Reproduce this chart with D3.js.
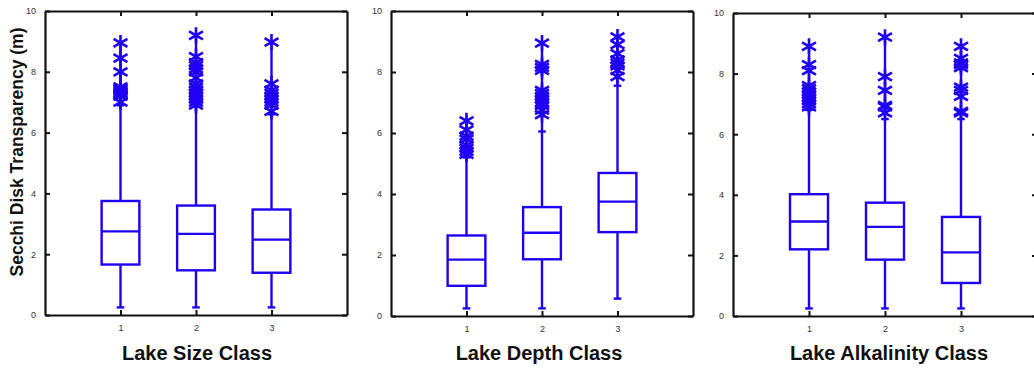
<!DOCTYPE html>
<html>
<head>
<meta charset="utf-8">
<script src="https://cdn.jsdelivr.net/npm/d3@7"></script>
<style>
  html, body { margin: 0; padding: 0; background: #fff; }
  svg { display: block; }
</style>
</head>
<body>
<svg id="chart" width="1034" height="370"></svg>
<script>
// ---------- data ----------
const classes = [1, 2, 3];
const yTicks = [0, 2, 4, 6, 8, 10];
const yAxisTitle = "Secchi Disk Transparency (m)";
const panelTitles = ["Lake Size Class", "Lake Depth Class", "Lake Alkalinity Class"];

// Lake Size Class
const sizeLow = [0.25, 0.25, 0.25];
const sizeQ1 = [1.66, 1.47, 1.39];
const sizeMedian = [2.75, 2.67, 2.48];
const sizeQ3 = [3.75, 3.60, 3.47];
const sizeHigh = [6.9, 6.85, 6.6];
const sizeOutliers = [
  [7.0, 7.2, 7.25, 7.3, 7.35, 7.4, 7.45, 7.5, 8.0, 8.45, 8.95],
  [6.9, 7.0, 7.1, 7.2, 7.3, 7.4, 7.5, 7.6, 7.8, 8.0, 8.1, 8.2, 8.3, 8.5, 9.2],
  [6.7, 6.9, 7.0, 7.1, 7.2, 7.3, 7.4, 7.6, 8.98]
];

// Lake Depth Class
const depthLow = [0.25, 0.25, 0.57];
const depthQ1 = [0.99, 1.86, 2.75];
const depthMedian = [1.85, 2.73, 3.75];
const depthQ3 = [2.64, 3.57, 4.69];
const depthHigh = [5.2, 6.05, 7.55];
const depthOutliers = [
  [5.3, 5.4, 5.5, 5.6, 5.8, 5.9, 6.1, 6.4],
  [6.6, 6.75, 6.9, 7.0, 7.1, 7.2, 7.3, 7.4, 8.05, 8.15, 8.25, 8.95],
  [7.85, 8.05, 8.2, 8.3, 8.4, 8.6, 8.9, 9.15]
];

// Lake Alkalinity Class
const alkLow = [0.25, 0.25, 0.25];
const alkQ1 = [2.2, 1.86, 1.09];
const alkMedian = [3.12, 2.94, 2.1];
const alkQ3 = [4.02, 3.74, 3.27];
const alkHigh = [6.8, 6.5, 6.5];
const alkOutliers = [
  [6.9, 7.0, 7.1, 7.2, 7.3, 7.4, 7.5, 7.6, 8.1, 8.3, 8.9],
  [6.7, 6.9, 6.95, 7.45, 7.9, 9.2],
  [6.7, 6.75, 7.25, 7.45, 7.55, 8.2, 8.3, 8.35, 8.5, 8.9]
];

// ---------- layout ----------
const BLUE = "#1f00f2";
const svg = d3.select("#chart");

const panels = [
  { box: { l: 45, r: 347, t: 11, b: 315 }, low: sizeLow, q1: sizeQ1, med: sizeMedian, q3: sizeQ3, high: sizeHigh, out: sizeOutliers, title: panelTitles[0], titleX: 197, showY: true },
  { box: { l: 391, r: 693, t: 11, b: 316 }, low: depthLow, q1: depthQ1, med: depthMedian, q3: depthQ3, high: depthHigh, out: depthOutliers, title: panelTitles[1], titleX: 539, showY: false },
  { box: { l: 733, r: 1037, t: 13, b: 316 }, low: alkLow, q1: alkQ1, med: alkMedian, q3: alkQ3, high: alkHigh, out: alkOutliers, title: panelTitles[2], titleX: 889, showY: false }
];

function starPath(cx, cy, r) {
  const dx = r * 0.87, dy = r * 0.5;
  return `M${cx},${cy - r}L${cx},${cy + r}` +
         `M${cx - dx},${cy - dy}L${cx + dx},${cy + dy}` +
         `M${cx - dx},${cy + dy}L${cx + dx},${cy - dy}`;
}

panels.forEach(p => {
  const b = p.box;
  const x = d3.scaleLinear().domain([0, 4]).range([b.l, b.r]);
  const y = d3.scaleLinear().domain([0, 10]).range([b.b, b.t]);
  const g = svg.append("g");

  // axes (inward ticks, box on)
  const axL = d3.axisLeft(y).tickValues(yTicks).tickSizeInner(-5).tickSizeOuter(0).tickPadding(9);
  const axR = d3.axisRight(y).tickValues(yTicks).tickSizeInner(-5).tickSizeOuter(0).tickFormat("");
  const axB = d3.axisBottom(x).tickValues(classes).tickSizeInner(-5).tickSizeOuter(0).tickPadding(10).tickFormat(d3.format("d"));
  const axT = d3.axisTop(x).tickValues(classes).tickSizeInner(-5).tickSizeOuter(0).tickFormat("");

  const gl = g.append("g").attr("transform", `translate(${b.l},0)`).call(axL);
  const gr = g.append("g").attr("transform", `translate(${b.r},0)`).call(axR);
  const gb = g.append("g").attr("transform", `translate(0,${b.b})`).call(axB);
  const gt = g.append("g").attr("transform", `translate(0,${b.t})`).call(axT);
  [gl, gr, gb, gt].forEach(a => {
    a.select(".domain").attr("stroke", "#111").attr("stroke-width", 2.2);
    a.selectAll(".tick line").attr("stroke", "#111").attr("stroke-width", 2);
    a.selectAll(".tick text").attr("fill", "#333").attr("font-family", "Liberation Sans, Arial, sans-serif").attr("font-size", 9);
  });

  // boxes
  const bw = 0.25, cw = 0.05;
  const bg = g.append("g").attr("fill", "none").attr("stroke", BLUE).attr("stroke-width", 2.4);
  classes.forEach((c, i) => {
    // whiskers
    bg.append("line").attr("x1", x(c)).attr("x2", x(c)).attr("y1", y(p.low[i])).attr("y2", y(p.q1[i]));
    bg.append("line").attr("x1", x(c)).attr("x2", x(c)).attr("y1", y(p.q3[i])).attr("y2", y(p.high[i]));
    bg.append("line").attr("x1", x(c - cw)).attr("x2", x(c + cw)).attr("y1", y(p.low[i])).attr("y2", y(p.low[i]));
    bg.append("line").attr("x1", x(c - cw)).attr("x2", x(c + cw)).attr("y1", y(p.high[i])).attr("y2", y(p.high[i]));
    // box
    bg.append("rect").attr("x", x(c - bw)).attr("y", y(p.q3[i]))
      .attr("width", x(c + bw) - x(c - bw)).attr("height", y(p.q1[i]) - y(p.q3[i]));
    bg.append("line").attr("x1", x(c - bw)).attr("x2", x(c + bw)).attr("y1", y(p.med[i])).attr("y2", y(p.med[i]));
    // outliers
    if (p.out[i].length) {
      bg.append("line").attr("x1", x(c)).attr("x2", x(c)).attr("y1", y(p.high[i])).attr("y2", y(d3.max(p.out[i])));
    }
    p.out[i].forEach(v => {
      bg.append("path").attr("d", starPath(x(c), y(v), 8)).attr("stroke-width", 2.6);
    });
  });

  // x title
  g.append("text").attr("x", p.titleX).attr("y", 360).attr("text-anchor", "middle")
    .attr("font-family", "Liberation Sans, Arial, sans-serif").attr("font-weight", "bold")
    .attr("font-size", 20).attr("fill", "#111").text(p.title);

  if (p.showY) {
    g.append("text").attr("transform", `translate(23,152) rotate(-90)`)
      .attr("text-anchor", "middle")
      .attr("font-family", "Liberation Sans, Arial, sans-serif").attr("font-weight", "bold")
      .attr("font-size", 17.5).attr("fill", "#111").text(yAxisTitle);
  }
});
</script>
</body>
</html>
